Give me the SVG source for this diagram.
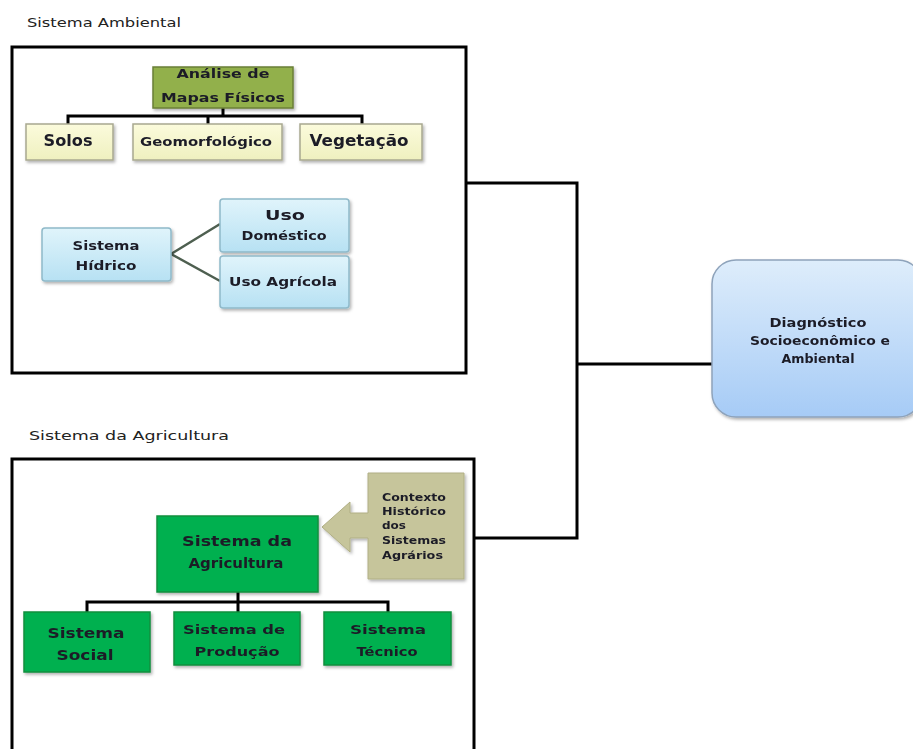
<svg xmlns="http://www.w3.org/2000/svg" width="913" height="749" viewBox="0 0 913 749">
<defs>
<style>
text{font-family:"DejaVu Sans","Liberation Sans",sans-serif;fill:#1c1c28;}
.b{font-weight:bold;}
.lbl{font-family:"DejaVu Sans","Liberation Sans",sans-serif;font-size:13px;fill:#222;}
.frame{fill:none;stroke:#000;stroke-width:3;}
.conn{fill:none;stroke:#000;stroke-width:3;}
.hid{fill:none;stroke:#4e5f50;stroke-width:2.5;}
.yel{fill:url(#gYel);stroke:#a8a890;stroke-width:1.5;}
.blu{fill:url(#gBlu);stroke:#8fb9c9;stroke-width:1.5;}
.grn{fill:#00b04f;stroke:#0d8f3e;stroke-width:1.5;}
</style>
<linearGradient id="gYel" x1="0" y1="0" x2="0" y2="1"><stop offset="0" stop-color="#fbfbdc"/><stop offset="1" stop-color="#eff0bf"/></linearGradient>
<linearGradient id="gBlu" x1="0" y1="0" x2="0" y2="1"><stop offset="0" stop-color="#e0f4fb"/><stop offset="1" stop-color="#b7e1f3"/></linearGradient>
<linearGradient id="gDia" x1="0" y1="0" x2="0" y2="1"><stop offset="0" stop-color="#deedfb"/><stop offset="1" stop-color="#a6cbf6"/></linearGradient>
<filter id="sh" x="-10%" y="-10%" width="125%" height="130%"><feDropShadow dx="1.5" dy="2" stdDeviation="1.5" flood-color="#000" flood-opacity="0.3"/></filter>
</defs>

<text class="lbl" x="27" y="27" textLength="154" lengthAdjust="spacingAndGlyphs">Sistema Ambiental</text>
<text class="lbl" x="29" y="440" textLength="200" lengthAdjust="spacingAndGlyphs">Sistema da Agricultura</text>

<g id="frames">
<rect class="frame" x="12" y="47" width="454" height="326"/>
<path class="frame" d="M12,752 V459 H474 V752"/>
</g>

<g id="connectors">
<path class="conn" d="M466,183 H577 V538 H474"/>
<path class="conn" d="M577,364 H712"/>
<path class="conn" d="M223,108 V116 M68,124 V116 H362 V124 M208,116 V124"/>
<path class="hid" d="M171,254 L220,224 M171,254 L220,281"/>
<path class="conn" d="M238,592 V602 M87,612 V602 H388 V612 M238,602 V612"/>
</g>

<g id="analise" filter="url(#sh)">
<rect x="153" y="67" width="140" height="41" fill="#92b04c" stroke="#6a7f36" stroke-width="1.5"/>
<text class="b" font-size="12.5" x="223" y="78" text-anchor="middle" textLength="93" lengthAdjust="spacingAndGlyphs">Análise de</text>
<text class="b" font-size="12.5" x="223" y="102" text-anchor="middle" textLength="124" lengthAdjust="spacingAndGlyphs">Mapas Físicos</text>
</g>

<g id="solos" filter="url(#sh)">
<rect class="yel" x="26" y="124" width="87" height="36"/>
<text class="b" font-size="15" x="68" y="146" text-anchor="middle" textLength="49" lengthAdjust="spacingAndGlyphs">Solos</text>
</g>
<g id="geomorfologico" filter="url(#sh)">
<rect class="yel" x="133" y="124" width="149" height="36"/>
<text class="b" font-size="12" x="206" y="146" text-anchor="middle" textLength="132" lengthAdjust="spacingAndGlyphs">Geomorfológico</text>
</g>
<g id="vegetacao" filter="url(#sh)">
<rect class="yel" x="300" y="124" width="122" height="36"/>
<text class="b" font-size="15" x="359" y="146" text-anchor="middle" textLength="99" lengthAdjust="spacingAndGlyphs">Vegetação</text>
</g>

<g id="hidrico" filter="url(#sh)">
<rect class="blu" x="42" y="228" width="129" height="53" rx="3"/>
<text class="b" font-size="13" x="106" y="250" text-anchor="middle" textLength="67" lengthAdjust="spacingAndGlyphs">Sistema</text>
<text class="b" font-size="13" x="106" y="270" text-anchor="middle" textLength="61" lengthAdjust="spacingAndGlyphs">Hídrico</text>
</g>
<g id="domestico" filter="url(#sh)">
<rect class="blu" x="220" y="199" width="129" height="53" rx="3"/>
<text class="b" font-size="14" x="285" y="220" text-anchor="middle" textLength="40" lengthAdjust="spacingAndGlyphs">Uso</text>
<text class="b" font-size="12" x="284" y="240" text-anchor="middle" textLength="85" lengthAdjust="spacingAndGlyphs">Doméstico</text>
</g>
<g id="agricola" filter="url(#sh)">
<rect class="blu" x="220" y="256" width="129" height="52" rx="3"/>
<text class="b" font-size="13" x="283" y="286" text-anchor="middle" textLength="108" lengthAdjust="spacingAndGlyphs">Uso Agrícola</text>
</g>

<g id="diagnostico" filter="url(#sh)">
<rect x="712" y="260" width="210" height="157" rx="24" fill="url(#gDia)" stroke="#8ea3bb" stroke-width="1.5"/>
<text class="b" font-size="12.5" x="818" y="327" text-anchor="middle" textLength="97" lengthAdjust="spacingAndGlyphs">Diagnóstico</text>
<text class="b" font-size="12.5" x="820" y="345" text-anchor="middle" textLength="140" lengthAdjust="spacingAndGlyphs">Socioeconômico e</text>
<text class="b" font-size="12.5" x="818" y="363" text-anchor="middle" textLength="73" lengthAdjust="spacingAndGlyphs">Ambiental</text>
</g>

<g id="contexto" filter="url(#sh)">
<path d="M368,473 H464 V579 H368 V538 H350 V552 L322,527 L350,502 V513 H368 Z" fill="#c6c59b" stroke="#b0af85" stroke-width="1"/>
<text class="b" font-size="10.5" x="382" y="501" textLength="64" lengthAdjust="spacingAndGlyphs">Contexto</text>
<text class="b" font-size="10.5" x="382" y="515" textLength="64" lengthAdjust="spacingAndGlyphs">Histórico</text>
<text class="b" font-size="10.5" x="382" y="529" textLength="24" lengthAdjust="spacingAndGlyphs">dos</text>
<text class="b" font-size="10.5" x="382" y="544" textLength="64" lengthAdjust="spacingAndGlyphs">Sistemas</text>
<text class="b" font-size="10.5" x="382" y="559" textLength="61" lengthAdjust="spacingAndGlyphs">Agrários</text>
</g>

<g id="agricultura" filter="url(#sh)">
<rect class="grn" x="157" y="516" width="161" height="76"/>
<text class="b" font-size="14" x="237" y="546" text-anchor="middle" textLength="110" lengthAdjust="spacingAndGlyphs">Sistema da</text>
<text class="b" font-size="14" x="236" y="568" text-anchor="middle" textLength="95" lengthAdjust="spacingAndGlyphs">Agricultura</text>
</g>

<g id="social" filter="url(#sh)">
<rect class="grn" x="24" y="612" width="126" height="60"/>
<text class="b" font-size="14" x="86" y="638" text-anchor="middle" textLength="77" lengthAdjust="spacingAndGlyphs">Sistema</text>
<text class="b" font-size="14" x="85" y="660" text-anchor="middle" textLength="57" lengthAdjust="spacingAndGlyphs">Social</text>
</g>
<g id="producao" filter="url(#sh)">
<rect class="grn" x="174" y="612" width="126" height="53"/>
<text class="b" font-size="13" x="234" y="634" text-anchor="middle" textLength="102" lengthAdjust="spacingAndGlyphs">Sistema de</text>
<text class="b" font-size="13" x="237" y="656" text-anchor="middle" textLength="85" lengthAdjust="spacingAndGlyphs">Produção</text>
</g>
<g id="tecnico" filter="url(#sh)">
<rect class="grn" x="324" y="612" width="127" height="53"/>
<text class="b" font-size="13" x="388" y="634" text-anchor="middle" textLength="76" lengthAdjust="spacingAndGlyphs">Sistema</text>
<text class="b" font-size="13" x="387" y="656" text-anchor="middle" textLength="61" lengthAdjust="spacingAndGlyphs">Técnico</text>
</g>
</svg>
